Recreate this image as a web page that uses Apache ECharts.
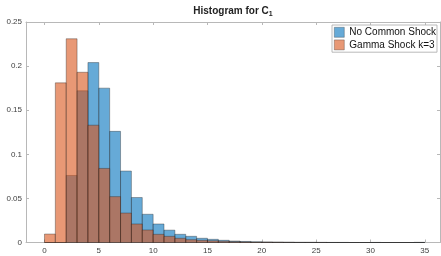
<!DOCTYPE html>
<html>
<head>
<meta charset="utf-8">
<script src="https://cdn.jsdelivr.net/npm/echarts@6/dist/echarts.min.js"></script>
<style>
  html, body { margin: 0; padding: 0; background: #fff; }
  #chart { width: 441px; height: 256px; }
</style>
</head>
<body>
<div id="chart"></div>
<script>
// bin left edges (bin width 1)
var binLeft = [0, 1, 2, 3, 4, 5, 6, 7, 8, 9, 10, 11, 12, 13, 14, 15, 16, 17,
  18, 19, 20, 21, 22, 23, 24, 25, 26, 27, 28, 29, 30, 31, 32, 33, 34]
var binWidth = 1

// share of samples per bin
var noCommon = [0, 0, 0.076, 0.172, 0.204, 0.175, 0.126, 0.081, 0.051, 0.032,
  0.021, 0.014, 0.0093, 0.007, 0.0048, 0.0036, 0.0025, 0.0017, 0.0012, 0.0008,
  0.0006, 0.0004, 0.0003, 0.0002, 0.0002, 0.0001, 0.0001, 0.0001, 0, 0,
  0.0001, 0, 0, 0, 0.0002]
var gammaShock = [0.0096, 0.181, 0.231, 0.193, 0.133, 0.084, 0.052, 0.0334, 0.021, 0.0142,
  0.0093, 0.007, 0.0048, 0.0032, 0.0025, 0.002, 0.0014, 0.001, 0.0007, 0.0005,
  0.0004, 0.0003, 0.0002, 0.0001, 0.0001, 0.0001, 0, 0, 0, 0,
  0, 0, 0, 0, 0]

var xTicks = [0, 5, 10, 15, 20, 25, 30, 35]
var seriesNames = ['No Common Shock', 'Gamma Shock k=3']

var axisGray = '#b8b8b8'
var labelGray = '#404040'

function bins(values) {
  return binLeft.map(function (b, i) { return [b, b + binWidth, values[i]] })
}

function histSeries(name, values, color) {
  return {
    name: name,
    type: 'custom',
    xAxisIndex: 0,
    yAxisIndex: 0,
    itemStyle: { color: color, borderColor: 'rgba(30,30,30,0.6)', borderWidth: 0.6 },
    encode: { x: [0, 1], y: 2 },
    data: bins(values),
    renderItem: function (params, api) {
      var top = api.coord([api.value(0), api.value(2)])
      var bottom = api.coord([api.value(1), 0])
      return {
        type: 'rect',
        shape: { x: top[0], y: top[1], width: bottom[0] - top[0], height: bottom[1] - top[1] },
        style: { fill: color, stroke: 'rgba(30,30,30,0.6)', lineWidth: 0.6 }
      }
    }
  }
}

var chart = echarts.init(document.getElementById('chart'))
var option = {
  animation: false,
  grid: { left: 26, right: 1, top: 22, bottom: 13.5, containLabel: false },
  graphic: [{
    type: 'text',
    x: 233,
    y: 11,
    style: {
      text: '{a|Histogram for C}{s|1}',
      textAlign: 'center',
      textVerticalAlign: 'middle',
      rich: {
        a: { fontFamily: 'Liberation Sans', fontSize: 10, fontWeight: 'bold', fill: '#222' },
        s: { fontFamily: 'Liberation Sans', fontSize: 7, fontWeight: 'bold', fill: '#222', padding: [6, 0, 0, 0] }
      }
    }
  }],
  legend: {
    data: seriesNames,
    orient: 'vertical',
    left: 332,
    top: 25,
    icon: 'rect',
    itemWidth: 10,
    itemHeight: 10,
    itemGap: 2,
    padding: [2, 1, 2, 2],
    backgroundColor: '#fff',
    borderColor: '#a8a8a8',
    borderWidth: 0.8,
    borderRadius: 0,
    itemStyle: { borderColor: 'rgba(30,30,30,0.5)', borderWidth: 0.6 },
    textStyle: { fontFamily: 'Liberation Sans', fontSize: 10, color: '#111' }
  },
  xAxis: [{
    type: 'value',
    min: -1.7,
    max: 36.4,
    position: 'bottom',
    axisLine: { show: true, onZero: false, lineStyle: { color: axisGray, width: 1 } },
    axisTick: { show: true, inside: true, length: 3, customValues: xTicks, lineStyle: { color: axisGray } },
    axisLabel: { customValues: xTicks, fontFamily: 'Liberation Sans', fontSize: 8, color: labelGray, margin: 4 },
    splitLine: { show: false }
  }, {
    type: 'value',
    min: -1.7,
    max: 36.4,
    position: 'top',
    axisLine: { show: true, onZero: false, lineStyle: { color: axisGray, width: 1 } },
    axisTick: { show: true, inside: true, length: 3, customValues: xTicks, lineStyle: { color: axisGray } },
    axisLabel: { show: false },
    splitLine: { show: false }
  }],
  yAxis: [{
    type: 'value',
    min: 0,
    max: 0.25,
    interval: 0.05,
    position: 'left',
    axisLine: { show: true, onZero: false, lineStyle: { color: axisGray, width: 1 } },
    axisTick: { show: true, inside: true, length: 3, lineStyle: { color: axisGray } },
    axisLabel: {
      fontFamily: 'Liberation Sans', fontSize: 8, color: labelGray, margin: 4,
      formatter: function (v) { return String(Math.round(v * 100) / 100) }
    },
    splitLine: { show: false }
  }, {
    type: 'value',
    min: 0,
    max: 0.25,
    interval: 0.05,
    position: 'right',
    axisLine: { show: true, onZero: false, lineStyle: { color: axisGray, width: 1 } },
    axisTick: { show: true, inside: true, length: 3, lineStyle: { color: axisGray } },
    axisLabel: { show: false },
    splitLine: { show: false }
  }],
  series: [
    histSeries(seriesNames[0], noCommon, 'rgba(0,114,189,0.6)'),
    histSeries(seriesNames[1], gammaShock, 'rgba(217,83,25,0.6)')
  ]
}
option && chart.setOption(option)
</script>
</body>
</html>
